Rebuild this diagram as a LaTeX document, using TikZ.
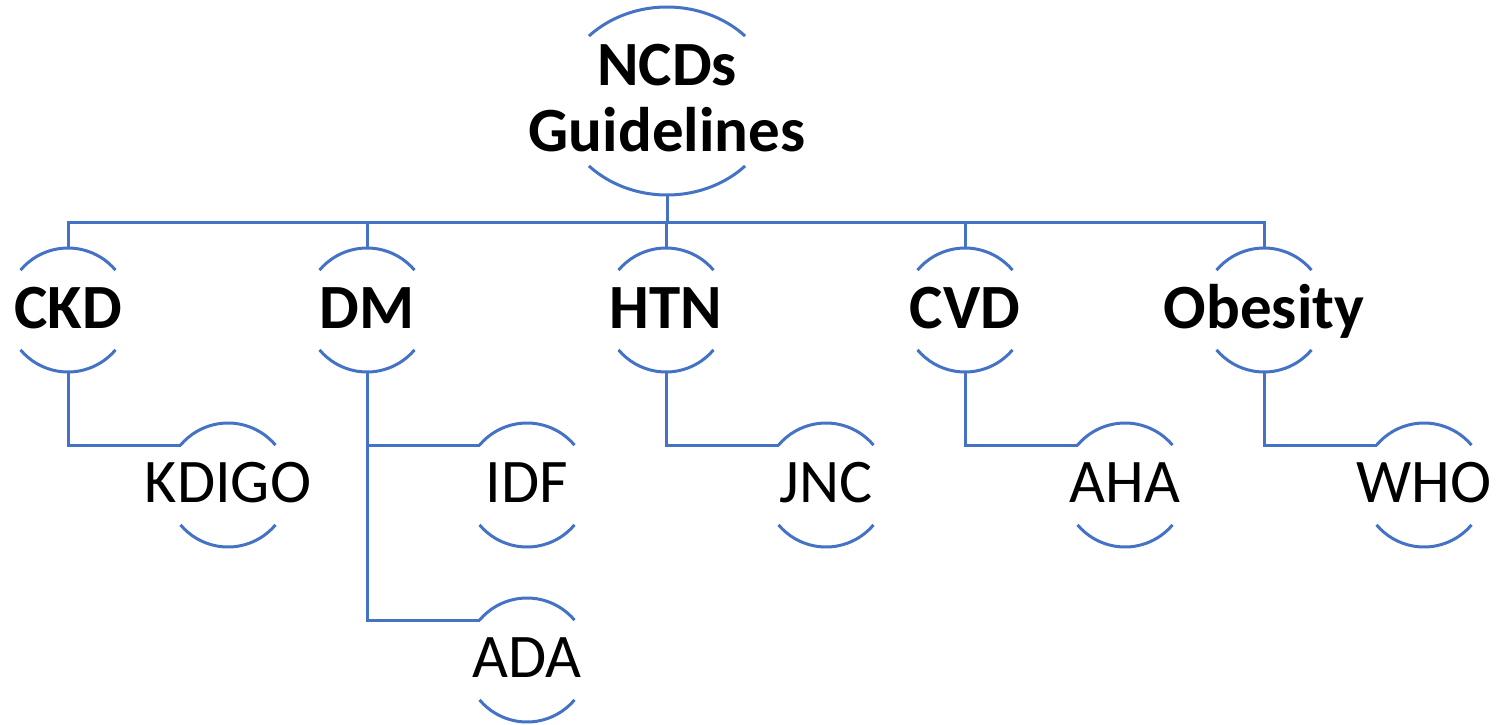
\documentclass[tikz,border=0pt]{standalone}
\usepackage{fontspec}
\setmainfont{Carlito}
\usepackage{tikz}
\usetikzlibrary{calc}
\definecolor{linkblue}{RGB}{68,114,196}

\begin{document}
\begin{tikzpicture}[
    x=1pt, y=1pt,
    root/.style={font=\bfseries\fontsize{63}{66}\selectfont, align=center, text height=106pt, text depth=6pt, inner sep=0pt},
    topic/.style={font=\bfseries\fontsize{63}{66}\selectfont, text height=40pt, text depth=4pt, inner sep=0pt},
    source/.style={font=\fontsize{62}{66}\selectfont, text height=39pt, text depth=4pt, inner sep=0pt},
    link/.style={draw=linkblue, line width=3pt}
]
    \useasboundingbox (0,0) rectangle (1499,-725);

    \node[root] (ncds) at (667,-101) {NCDs\\Guidelines};

    \node[topic] (ckd) at (68,-310) {CKD};
    \node[topic] (dm) at (367,-310) {DM};
    \node[topic] (htn) at (666,-310) {HTN};
    \node[topic] (cvd) at (965,-310) {CVD};
    \node[topic] (obesity) at (1264,-310) {Obesity};

    \node[source] (kdigo) at (228,-485) {KDIGO};
    \node[source] (idf) at (527,-485) {IDF};
    \node[source] (ada) at (527,-660) {ADA};
    \node[source] (jnc) at (826,-485) {JNC};
    \node[source] (aha) at (1125,-485) {AHA};
    \node[source] (who) at (1424,-485) {WHO};

    % open rims above and below each label
    \draw[link] (ncds.center) ++(43.7:108 and 94) arc[start angle=43.7, end angle=136.3, x radius=108, y radius=94];
    \draw[link] (ncds.center) ++(-43.7:108 and 94) arc[start angle=-43.7, end angle=-136.3, x radius=108, y radius=94];
    \foreach \n in {ckd,dm,htn,cvd,obesity,kdigo,idf,ada,jnc,aha,who} {
        \draw[link] (\n.center) ++(40:62) arc[start angle=40, end angle=140, radius=62];
        \draw[link] (\n.center) ++(-40:62) arc[start angle=-40, end angle=-140, radius=62];
    }

    % bus from the root
    \foreach \n in {ckd,dm,htn,cvd,obesity}
        \draw[link] (\n.center) ++(0,62) -- ++(0,26) -| ($(ncds.center)+(0,-94)$);

    % guideline bodies
    \draw[link] (ckd.center) ++(0,-62) |- ($(kdigo.center)+(140:62)$);
    \draw[link] (dm.center) ++(0,-62) |- ($(idf.center)+(140:62)$);
    \draw[link] (dm.center) ++(0,-62) |- ($(ada.center)+(140:62)$);
    \draw[link] (htn.center) ++(0,-62) |- ($(jnc.center)+(140:62)$);
    \draw[link] (cvd.center) ++(0,-62) |- ($(aha.center)+(140:62)$);
    \draw[link] (obesity.center) ++(0,-62) |- ($(who.center)+(140:62)$);
\end{tikzpicture}
\end{document}
